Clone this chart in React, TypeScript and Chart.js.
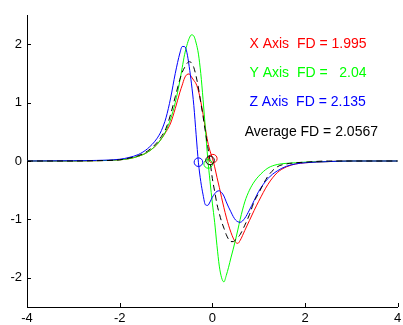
import React, { useEffect, useRef } from 'react';
import { Chart, registerables } from 'chart.js';

Chart.register(...registerables);

// Shared sample positions (time axis)
const xValues = [
  -4, -3, -2.5, -2, -1.8, -1.6, -1.4, -1.2, -1.1, -1.0,
  -0.9, -0.8, -0.7, -0.65, -0.6, -0.55, -0.5, -0.45, -0.4, -0.35,
  -0.3, -0.25, -0.2, -0.15, -0.1, -0.05, 0, 0.05, 0.1, 0.15,
  0.2, 0.25, 0.3, 0.35, 0.4, 0.45, 0.5, 0.55, 0.6, 0.7,
  0.8, 0.9, 1.0, 1.2, 1.4, 1.6, 1.8, 2.0, 2.5, 3,
  4,
];

const xAxisValues = [
  0, 0, 0.005, 0.02, 0.04, 0.08, 0.15, 0.28, 0.38, 0.5,
  0.65, 0.9, 1.18, 1.3, 1.42, 1.48, 1.49, 1.44, 1.38, 1.32,
  1.2, 1.02, 0.8, 0.56, 0.33, 0.17, 0.05, -0.1, -0.28, -0.45,
  -0.63, -0.8, -0.96, -1.1, -1.22, -1.32, -1.39, -1.41, -1.36, -1.19,
  -1.02, -0.85, -0.69, -0.4, -0.2, -0.1, -0.05, -0.03, -0.01, 0,
  0,
];

const yAxisValues = [
  0, 0, 0.005, 0.02, 0.04, 0.08, 0.15, 0.28, 0.38, 0.52,
  0.72, 1.0, 1.38, 1.6, 1.82, 1.98, 2.1, 2.16, 2.14, 2.02,
  1.83, 1.5, 1.05, 0.55, 0.05, -0.35, -0.72, -1.05, -1.45, -1.8,
  -2.0, -2.07, -1.96, -1.82, -1.66, -1.51, -1.35, -1.18, -1.0, -0.7,
  -0.5, -0.36, -0.26, -0.12, -0.06, -0.04, -0.03, -0.02, -0.01, 0,
  0,
];

const zAxisValues = [
  0, 0.005, 0.01, 0.03, 0.06, 0.11, 0.21, 0.38, 0.52, 0.74,
  1.08, 1.5, 1.85, 1.96, 1.96, 1.86, 1.62, 1.32, 0.95, 0.45,
  -0.03, -0.35, -0.58, -0.75, -0.76, -0.7, -0.62, -0.56, -0.52, -0.51,
  -0.54, -0.6, -0.7, -0.79, -0.87, -0.95, -1.01, -1.04, -1.05, -0.98,
  -0.84, -0.68, -0.52, -0.3, -0.17, -0.09, -0.05, -0.03, -0.01, 0,
  0,
];

const averageValues = [
  0, 0, 0.005, 0.02, 0.05, 0.09, 0.17, 0.31, 0.42, 0.56,
  0.8, 1.1, 1.4, 1.52, 1.6, 1.67, 1.7, 1.68, 1.6, 1.45,
  1.25, 1.0, 0.76, 0.5, 0.25, 0.0, -0.3, -0.52, -0.74, -0.9,
  -1.04, -1.15, -1.26, -1.34, -1.38, -1.38, -1.35, -1.31, -1.26, -1.1,
  -0.92, -0.7, -0.55, -0.26, -0.1, -0.05, -0.03, -0.02, 0, 0,
  0,
];

// Zero-crossing markers (X, Y, Z, Average)
const markerX = [0.01, -0.09, -0.3, -0.05];
const markerY = [0.04, -0.05, -0.02, 0.01];

const seriesColors = ['#ff0000', '#00ff00', '#0000ff', '#000000'];

const xTicks = [-4, -2, 0, 2, 4];
const yTicks = [-2, -1, 0, 1, 2];

const noteTexts = [
  'X Axis  FD = 1.995',
  'Y Axis  FD =   2.04',
  'Z Axis  FD = 2.135',
  'Average FD = 2.0567',
];
const noteX = [0.8, 0.8, 0.8, 0.7];
const noteY = [2, 1.5, 1, 0.5];

const FONT = "'Liberation Sans', Arial, sans-serif";

const toPoints = (ys: number[]) => xValues.map((x, i) => ({ x, y: ys[i] }));

const overlayPlugin = {
  id: 'overlay',
  afterDatasetsDraw(chart: any) {
    const { ctx, chartArea } = chart;
    const xs = chart.scales.x;
    const ys = chart.scales.y;
    ctx.save();
    ctx.strokeStyle = '#000';
    ctx.lineWidth = 1;
    ctx.beginPath();
    for (const v of xTicks) {
      const px = Math.round(xs.getPixelForValue(v)) + 0.5;
      ctx.moveTo(px, chartArea.bottom);
      ctx.lineTo(px, chartArea.bottom - 4);
    }
    for (const v of yTicks) {
      const py = Math.round(ys.getPixelForValue(v)) + 0.5;
      ctx.moveTo(chartArea.left, py);
      ctx.lineTo(chartArea.left + 4, py);
    }
    ctx.stroke();
    ctx.font = `14px ${FONT}`;
    ctx.textBaseline = 'middle';
    ctx.textAlign = 'left';
    noteTexts.forEach((t, i) => {
      ctx.fillStyle = seriesColors[i];
      ctx.fillText(t, xs.getPixelForValue(noteX[i]), ys.getPixelForValue(noteY[i]));
    });
    ctx.restore();
  },
};

export default function App() {
  const canvasRef = useRef<HTMLCanvasElement | null>(null);

  useEffect(() => {
    if (!canvasRef.current) return;
    const lineDs = (label: string, ys: number[], color: string, order: number, dash: number[] = []) => ({
      label,
      data: toPoints(ys),
      showLine: true,
      borderColor: color,
      backgroundColor: color,
      borderWidth: 1,
      borderDash: dash,
      pointRadius: 0,
      cubicInterpolationMode: 'monotone' as const,
      fill: false,
      order,
    });
    const chart = new Chart(canvasRef.current, {
      type: 'scatter',
      data: {
        datasets: [
          lineDs('Average', averageValues, seriesColors[3], 1, [6, 4]),
          lineDs('Z Axis', zAxisValues, seriesColors[2], 2),
          lineDs('Y Axis', yAxisValues, seriesColors[1], 3),
          lineDs('X Axis', xAxisValues, seriesColors[0], 4),
          {
            label: 'markers',
            data: markerX.map((x, i) => ({ x, y: markerY[i] })),
            showLine: false,
            pointRadius: 4.3,
            pointBorderWidth: 1,
            pointBorderColor: seriesColors,
            pointBackgroundColor: 'rgba(0,0,0,0)',
            order: 0,
          } as any,
        ],
      },
      options: {
        animation: false,
        responsive: false,
        devicePixelRatio: 1,
        layout: { padding: { top: 15, right: 2, left: 0, bottom: 0 } },
        plugins: { legend: { display: false }, tooltip: { enabled: false } },
        scales: {
          x: {
            type: 'linear',
            min: -4,
            max: 4,
            grid: { display: false, drawTicks: false },
            border: { display: true, color: '#000', width: 1 },
            ticks: { color: '#000', font: { family: FONT, size: 13 }, padding: 4, maxRotation: 0 },
            afterBuildTicks: (s: any) => {
              s.ticks = xTicks.map((v) => ({ value: v }));
            },
            afterFit: (s: any) => {
              s.height = 18;
              s.paddingLeft = 0;
              s.paddingRight = 0;
            },
          },
          y: {
            type: 'linear',
            min: -2.5,
            max: 2.5,
            grid: { display: false, drawTicks: false },
            border: { display: true, color: '#000', width: 1 },
            ticks: { color: '#000', font: { family: FONT, size: 13 }, padding: 5 },
            afterBuildTicks: (s: any) => {
              s.ticks = yTicks.map((v) => ({ value: v }));
            },
            afterFit: (s: any) => {
              s.width = 27;
              s.paddingTop = 0;
              s.paddingBottom = 0;
            },
          },
        },
      },
      plugins: [overlayPlugin],
    });
    return () => chart.destroy();
  }, []);

  return (
    <div style={{ position: 'fixed', left: 0, top: 0, width: 403, height: 325, background: '#fff' }}>
      <canvas ref={canvasRef} width={403} height={325} style={{ display: 'block' }} />
    </div>
  );
}
